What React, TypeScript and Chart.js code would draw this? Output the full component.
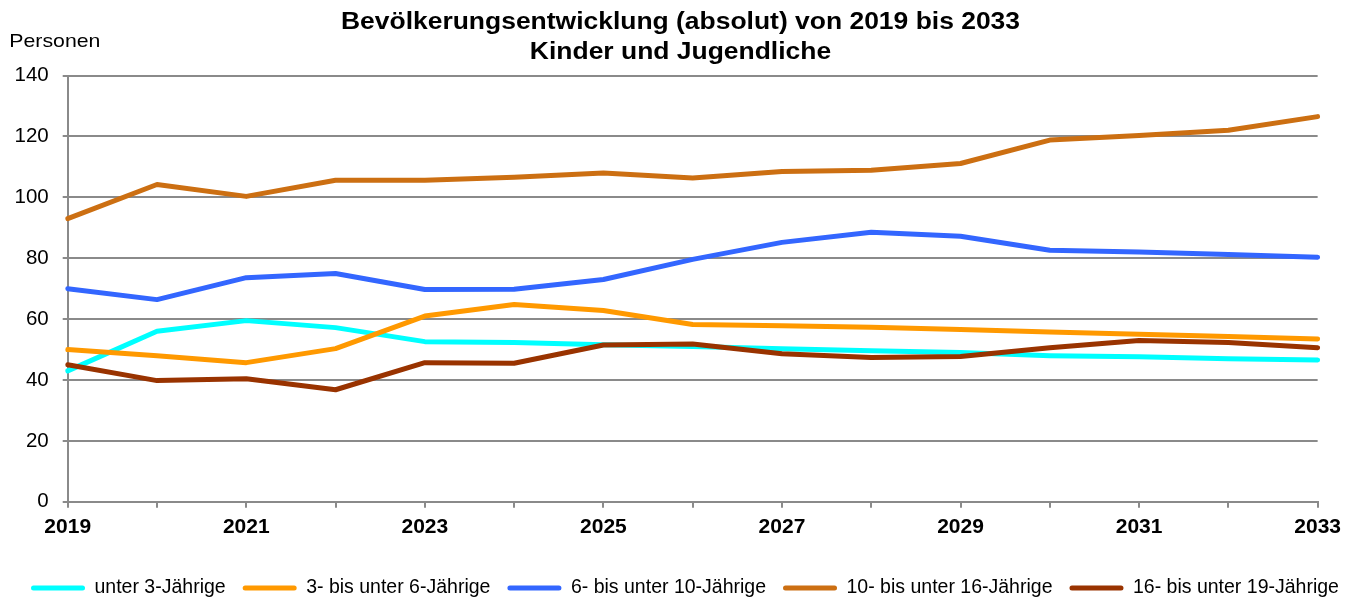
import React, { useEffect, useRef } from "react";
import { Chart, registerables } from "chart.js";

Chart.register(...registerables);

const years = ["2019","2020","2021","2022","2023","2024","2025","2026","2027","2028","2029","2030","2031","2032","2033"];
const unter3 = [43, 56, 59.5, 57.2, 52.6, 52.3, 51.6, 51, 50.3, 49.6, 49, 48, 47.6, 47, 46.6];
const von3bis6 = [50, 48, 45.7, 50.3, 61, 64.8, 62.8, 58.2, 57.8, 57.3, 56.6, 55.8, 55, 54.3, 53.5];
const von6bis10 = [70, 66.4, 73.6, 75, 69.7, 69.8, 73, 79.6, 85.2, 88.5, 87.2, 82.6, 82, 81.2, 80.3];
const von10bis16 = [93, 104.2, 100.3, 105.6, 105.6, 106.6, 108, 106.3, 108.5, 108.9, 111.1, 118.8, 120.3, 122, 126.5];
const von16bis19 = [45, 39.8, 40.4, 36.8, 45.7, 45.5, 51.5, 51.8, 48.6, 47.4, 47.7, 50.6, 53, 52.3, 50.6];

const seriesNames = ["unter 3-Jährige", "3- bis unter 6-Jährige", "6- bis unter 10-Jährige", "10- bis unter 16-Jährige", "16- bis unter 19-Jährige"];
const seriesColors = ["#00FFFF", "#FF9900", "#3366FF", "#CC6F12", "#993300"];
const titleLines = ["Bevölkerungsentwicklung (absolut) von 2019 bis 2033", "Kinder und Jugendliche"];
const yAxisLabel = "Personen";

const FONT = '"Liberation Sans", Arial, sans-serif';
const GRID = "#8a8a8a";

export default function App() {
  const ref = useRef<HTMLCanvasElement | null>(null);
  useEffect(() => {
    document.documentElement.style.overflow = "hidden";
    document.body.style.overflow = "hidden";
    if (!ref.current) return;
    const allSeries = [unter3, von3bis6, von6bis10, von10bis16, von16bis19];
    const textPlugin = {
      id: "texts",
      afterDraw(chart: any) {
        const ctx = chart.ctx;
        // title (stretched horizontally like the original)
        ctx.save();
        ctx.fillStyle = "#000";
        ctx.font = `bold 23px ${FONT}`;
        ctx.textAlign = "center";
        ctx.textBaseline = "alphabetic";
        const cx = 672.5;
        const baselines = [21.3, 51.3];
        titleLines.forEach((t, i) => {
          ctx.save();
          ctx.translate(cx, baselines[i]);
          ctx.scale(1.15, 1);
          ctx.fillText(t, 0, 0);
          ctx.restore();
        });
        ctx.restore();

        // axis unit label
        ctx.save();
        ctx.fillStyle = "#000";
        ctx.font = `19px ${FONT}`;
        ctx.textAlign = "left";
        ctx.textBaseline = "alphabetic";
        ctx.translate(1.3, 39.3);
        ctx.scale(1.12, 1);
        ctx.fillText(yAxisLabel, 0, 0);
        ctx.restore();

        // legend
        ctx.save();
        ctx.font = `19.5px ${FONT}`;
        ctx.textBaseline = "middle";
        ctx.textAlign = "left";
        let x = 23;
        const y = 580;
        chart.data.datasets.forEach((ds: any) => {
          ctx.strokeStyle = ds.borderColor;
          ctx.lineWidth = 5;
          ctx.lineCap = "round";
          ctx.beginPath();
          ctx.moveTo(x + 2.5, y);
          ctx.lineTo(x + 51.5, y);
          ctx.stroke();
          const tx = x + 54 + 9.5;
          ctx.fillStyle = "#000";
          ctx.fillText(ds.label, tx, y);
          x = tx + ctx.measureText(ds.label).width + 17;
        });
        ctx.restore();
      },
    };
    const chart = new Chart(ref.current, {
      type: "line",
      data: {
        labels: years,
        datasets: allSeries.map((d, i) => ({
          label: seriesNames[i],
          data: d,
          borderColor: seriesColors[i],
          backgroundColor: seriesColors[i],
          borderWidth: 5,
          pointRadius: 0,
          pointHoverRadius: 0,
          tension: 0,
          borderCapStyle: "round",
          borderJoinStyle: "round",
          order: 5 - i,
        })),
      },
      options: {
        animation: false,
        responsive: false,
        maintainAspectRatio: false,
        layout: { padding: { left: -7.5, right: 15, top: 67.5, bottom: 55 } },
        plugins: {
          tooltip: { enabled: false },
          title: { display: false },
          legend: { display: false },
        },
        scales: {
          x: {
            type: "category",
            offset: false,
            grid: { drawOnChartArea: false, drawTicks: true, tickLength: 6, color: GRID, lineWidth: 2 },
            border: { display: true, color: GRID, width: 2 },
            ticks: {
              autoSkip: false,
              maxRotation: 0,
              minRotation: 0,
              padding: 7,
              color: "#000",
              font: { family: FONT, size: 21, weight: "bold" },
              callback: (_v: any, idx: number) => (idx % 2 === 0 ? years[idx] : ""),
            },
          },
          y: {
            min: 0,
            max: 140,
            grid: { color: GRID, lineWidth: 2, drawTicks: true, tickLength: 5 },
            border: { display: true, color: GRID, width: 2 },
            ticks: {
              stepSize: 20,
              padding: 14,
              color: "#000",
              font: { family: FONT, size: 20.5 },
            },
          },
        },
      },
      plugins: [textPlugin],
    });
    return () => chart.destroy();
  }, []);
  return (
    <div style={{ width: 1340, height: 594 }}>
      <canvas ref={ref} width={1340} height={594} style={{ display: "block", width: 1340, height: 594 }} />
    </div>
  );
}
